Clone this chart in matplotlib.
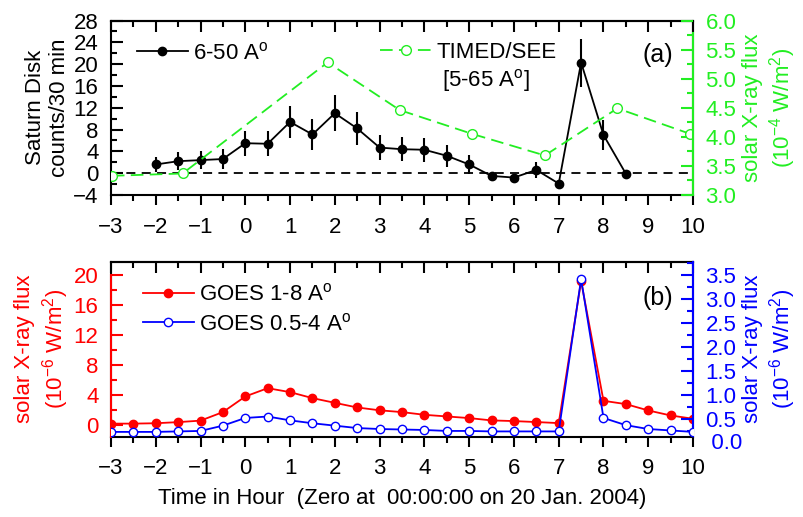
import matplotlib
matplotlib.use("Agg")
import matplotlib.pyplot as plt
from matplotlib.ticker import MultipleLocator, FixedLocator
from matplotlib.lines import Line2D

plt.rcParams['font.family'] = ['Liberation Sans', 'DejaVu Sans']
plt.rcParams['mathtext.fontset'] = 'custom'
plt.rcParams['mathtext.rm'] = 'Liberation Sans'
plt.rcParams['mathtext.it'] = 'Liberation Sans:italic'

# ---------------- data ----------------
# Panel (a): Saturn disk X-ray counts
hours_a = [-2, -1.5, -1, -0.5, 0, 0.5, 1, 1.5, 2, 2.5, 3, 3.5, 4, 4.5,
           5, 5.5, 6, 6.5, 7, 7.5, 8, 8.5]
counts = [1.6, 2.2, 2.4, 2.6, 5.5, 5.4, 9.4, 7.1, 11.0, 8.2, 4.7, 4.4, 4.3, 3.2,
          1.6, -0.5, -0.8, 0.6, -1.9, 20.3, 7.0, -0.1]
count_err = [1.4, 1.7, 1.7, 1.75, 2.3, 2.3, 3.0, 2.8, 3.3, 3.0, 2.3, 2.2, 2.2, 2.0,
             1.7, 0.8, 0.6, 1.4, 0.6, 4.4, 2.7, 0.5]

# TIMED/SEE flux (10^-4 W/m^2)
hours_timed = [-2.98, -1.40, 1.84, 3.45, 5.07, 6.69, 8.31, 9.94]
timed_flux = [3.33, 3.37, 5.28, 4.46, 4.05, 3.68, 4.49, 4.05]

# Panel (b): GOES fluxes (10^-6 W/m^2)
hours_goes = [-3, -2.5, -2, -1.5, -1, -0.5, 0, 0.5, 1, 1.5, 2, 2.5, 3, 3.5, 4, 4.5,
              5, 5.5, 6, 6.5, 7, 7.5, 8, 8.5, 9, 9.5, 10]
goes_long = [0.15, 0.15, 0.2, 0.35, 0.55, 1.69, 3.78, 4.89, 4.36, 3.56, 2.93, 2.31, 1.93,
             1.69, 1.33, 1.11, 0.89, 0.58, 0.49, 0.36, 0.22, 19.2, 3.2, 2.76, 1.91, 1.24, 0.8]
goes_short = [0.24, 0.24, 0.24, 0.25, 0.26, 0.37, 0.53, 0.56, 0.48, 0.42, 0.37, 0.32, 0.30,
              0.29, 0.28, 0.26, 0.26, 0.25, 0.25, 0.25, 0.25, 3.42, 0.53, 0.38, 0.30, 0.27, 0.24]

xticks = list(range(-3, 11))
yticks_a = [-4, 0, 4, 8, 12, 16, 20, 24, 28]
yticks_a_r = [3.0, 3.5, 4.0, 4.5, 5.0, 5.5, 6.0]
yticks_b = [0, 4, 8, 12, 16, 20]
yticks_b_r = [0.0, 0.5, 1.0, 1.5, 2.0, 2.5, 3.0, 3.5]

GREEN = '#22ee22'
RED = '#ff0000'
BLUE = '#0000ff'
FS = 16
GREEN_LS = (0, (7, 3.5))
YPAD = 9

fig = plt.figure(figsize=(8.04, 5.17), dpi=100)
ax1 = fig.add_axes([0.138, 0.6228, 0.724, 0.3375])
ax2 = fig.add_axes([0.138, 0.1553, 0.724, 0.3385])


def style_x(ax):
    ax.set_xlim(-3, 10)
    ax.xaxis.set_major_locator(FixedLocator(xticks))
    ax.xaxis.set_minor_locator(MultipleLocator(0.5))
    ax.tick_params(axis='x', which='major', direction='out', length=7, width=1.5,
                   labelsize=FS, pad=8.5)
    ax.tick_params(axis='x', which='minor', direction='out', length=4, width=1.5)
    sec = ax.secondary_xaxis('top')
    sec.xaxis.set_major_locator(FixedLocator(xticks))
    sec.xaxis.set_minor_locator(MultipleLocator(0.5))
    sec.tick_params(axis='x', which='major', direction='in', length=8, width=1.5,
                    labeltop=False)
    sec.tick_params(axis='x', which='minor', direction='in', length=4.5, width=1.5)
    sec.spines['top'].set_linewidth(1.5)
    for s in ax.spines.values():
        s.set_linewidth(1.5)


# ---------------- panel (a) ----------------
style_x(ax1)
ax1.set_ylim(-4, 28)
ax1.yaxis.set_major_locator(FixedLocator(yticks_a))
ax1.yaxis.set_minor_locator(MultipleLocator(2))
ax1.tick_params(axis='y', which='major', direction='in', length=8.5, width=1.5,
                labelsize=FS, right=False, pad=YPAD)
ax1.tick_params(axis='y', which='minor', direction='in', length=4.3, width=1.5, right=False)
ax1.axhline(0, color='black', lw=1.3, ls=(0, (5, 3.5)), zorder=1)
ax1.errorbar(hours_a, counts, yerr=count_err, fmt='-o', color='black', ms=6,
             lw=1.3, elinewidth=1.5, capsize=0, zorder=3)
ax1.set_ylabel('Saturn Disk\ncounts/30 min', fontsize=FS, labelpad=2)

ax1r = ax1.twinx()
ax1r.set_ylim(3.0, 6.0)
ax1r.plot(hours_timed, timed_flux, ls=GREEN_LS, color=GREEN, lw=1.3,
          marker='o', ms=7, mfc='white', mec=GREEN, mew=1.0, zorder=2)
ax1r.yaxis.set_major_locator(FixedLocator(yticks_a_r))
ax1r.yaxis.set_minor_locator(MultipleLocator(0.25))
ax1r.yaxis.set_major_formatter(matplotlib.ticker.FormatStrFormatter('%.1f'))
ax1r.tick_params(axis='y', which='major', direction='in', length=8.5, width=1.5,
                 labelsize=FS, colors=GREEN, pad=YPAD)
ax1r.tick_params(axis='y', which='minor', direction='in', length=4.3, width=1.5, colors=GREEN)
ax1r.spines['right'].set_color(GREEN)
ax1r.spines['right'].set_linewidth(1.5)
ax1r.spines['right'].set_bounds(3.0, 5.78)
for s in ['left', 'top', 'bottom']:
    ax1r.spines[s].set_visible(False)
ax1r.set_ylabel('solar X-ray flux\n(10$^{-4}$ W/m$^{2}$)', fontsize=FS, color=GREEN,
                labelpad=4)

h_black = Line2D([], [], color='black', marker='o', ms=6, lw=1.3)
leg1 = ax1.legend([h_black], ['6-50 A$^{\\mathrm{o}}$'], loc='upper left',
                  bbox_to_anchor=(0.01, 0.99), frameon=False, fontsize=FS,
                  handlelength=2.3, handletextpad=0.25)
h_green = Line2D([], [], color=GREEN, ls=GREEN_LS, marker='o', ms=7,
                 mfc='white', mec=GREEN, lw=1.3)
leg2 = ax1r.legend([h_green], ['TIMED/SEE'], loc='upper left',
                   bbox_to_anchor=(0.428, 0.99), frameon=False, fontsize=FS,
                   handlelength=2.3, handletextpad=0.25)
ax1r.text(0.568, 0.655, '[5-65 A$^{\\mathrm{o}}$]', transform=ax1.transAxes, fontsize=FS,
          ha='left', va='center')
ax1r.text(0.965, 0.80, '(a)', transform=ax1.transAxes, fontsize=18, ha='right', va='center')

# ---------------- panel (b) ----------------
style_x(ax2)
ax2.set_ylim(-1.6, 21.8)
ax2.yaxis.set_major_locator(FixedLocator(yticks_b))
ax2.yaxis.set_minor_locator(MultipleLocator(2))
ax2.tick_params(axis='y', which='major', direction='in', length=8.5, width=1.5,
                labelsize=FS, colors=RED, right=False, pad=YPAD)
ax2.tick_params(axis='y', which='minor', direction='in', length=4.3, width=1.5,
                colors=RED, right=False)
ax2.plot(hours_goes, goes_long, '-o', color=RED, ms=6, lw=1.3, zorder=3)
ax2.set_ylabel('solar X-ray flux\n(10$^{-6}$ W/m$^{2}$)', fontsize=FS, color=RED, labelpad=2)

ax2r = ax2.twinx()
ax2r.set_ylim(0.14, 3.78)
ax2r.plot(hours_goes, goes_short, '-o', color=BLUE, ms=6, lw=1.3, mfc='white',
          mec=BLUE, mew=1.0, zorder=4)
ax2r.yaxis.set_major_locator(FixedLocator(yticks_b_r))
ax2r.yaxis.set_minor_locator(MultipleLocator(0.25))
ax2r.yaxis.set_major_formatter(matplotlib.ticker.FormatStrFormatter('%.1f'))
ax2r.tick_params(axis='y', which='major', direction='in', length=8.5, width=1.5,
                 labelsize=FS, colors=BLUE, pad=YPAD)
ax2r.tick_params(axis='y', which='minor', direction='in', length=4.3, width=1.5, colors=BLUE)
ax2r.spines['right'].set_color(BLUE)
ax2r.spines['right'].set_linewidth(1.5)
ax2r.spines['right'].set_bounds(0.25, 3.78)
ax2r.spines['left'].set_color(RED)
ax2r.spines['left'].set_linewidth(1.5)
ax2r.spines['left'].set_bounds(0.14, 3.5)
for s in ['top', 'bottom']:
    ax2r.spines[s].set_visible(False)
# label for 0.0 which sits just below the visible range
ax2r.text(1.0, 0.0, '   0.0', transform=ax2r.get_yaxis_transform(), fontsize=FS,
          color=BLUE, ha='left', va='center', clip_on=False)
ax2r.set_ylabel('solar X-ray flux\n(10$^{-6}$ W/m$^{2}$)', fontsize=FS, color=BLUE,
                labelpad=4)

h_red = Line2D([], [], color=RED, marker='o', ms=6, lw=1.3)
h_blue = Line2D([], [], color=BLUE, marker='o', ms=6, mfc='white', mec=BLUE, lw=1.3)
ax2r.legend([h_red, h_blue], ['GOES 1-8 A$^{\\mathrm{o}}$', 'GOES 0.5-4 A$^{\\mathrm{o}}$'],
            loc='upper left', bbox_to_anchor=(0.02, 0.99), frameon=False, fontsize=FS,
            handlelength=2.3, handletextpad=0.25, labelspacing=0.35)
ax2r.text(0.965, 0.79, '(b)', transform=ax2.transAxes, fontsize=18, ha='right', va='center')

ax2.set_xlabel('Time in Hour  (Zero at  00:00:00 on 20 Jan. 2004)', fontsize=FS, labelpad=6)

fig.savefig('out.png', dpi=100)
